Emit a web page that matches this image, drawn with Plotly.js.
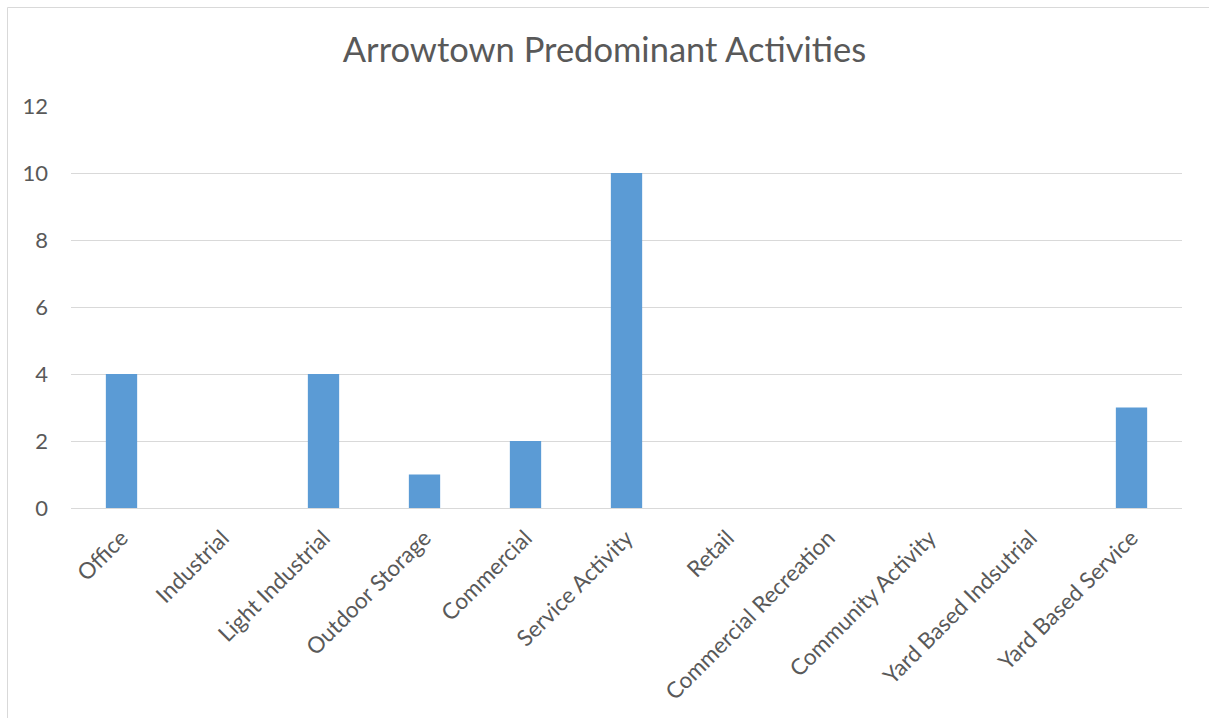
<!DOCTYPE html>
<html><head><meta charset="utf-8">
<script src="https://cdn.plot.ly/plotly-3.0.1.min.js"></script>
<style>html,body{margin:0;padding:0;background:#fff;}#chart{width:1209px;height:718px;}</style>
</head><body><div id="chart"></div>
<script>
const categories = ["Office","Industrial","Light Industrial","Outdoor Storage","Commercial","Service Activity","Retail","Commercial Recreation","Community Activity","Yard Based Indsutrial","Yard Based Service"];
const values = [4,0,4,1,2,10,0,0,0,0,3];
const yTicks = [0,2,4,6,8,10,12];

const W=1209,H=718,L=71,R=27,T=106,B=210;
const pw=W-L-R, ph=H-T-B;
const px = v => (v-L)/pw, py = v => (H-B-v)/ph;

Plotly.newPlot('chart',[{
  type:'bar', x:categories, y:values,
  marker:{color:'#5B9BD5'}, hoverinfo:'x+y'
}],{
  width:W,height:H,
  margin:{l:L,r:R,t:T,b:B,pad:0},
  paper_bgcolor:'#fff',plot_bgcolor:'#fff',
  bargap:0.69,
  font:{family:'Lato, Open Sans, sans-serif',color:'#595959'},
  title:{text:'Arrowtown Predominant Activities',font:{size:34.5,color:'#595959'},x:0.5,xanchor:'center',y:1-50/H,yanchor:'middle'},
  xaxis:{tickangle:-45,tickfont:{size:22.5,color:'#595959'},showgrid:false,showline:true,linecolor:'#D9D9D9',linewidth:1,ticks:'',ticklabelstandoff:7,automargin:false,fixedrange:true},
  yaxis:{range:[0,12],tickvals:yTicks,ticktext:yTicks.map(String),showgrid:true,gridcolor:'#D9D9D9',gridwidth:1,zeroline:true,zerolinecolor:'#D9D9D9',zerolinewidth:1,showline:false,tickfont:{size:22,color:'#595959'},ticks:'',ticklabelstandoff:22,automargin:false,fixedrange:true},
  shapes:[{type:'rect',xref:'paper',yref:'paper',x0:px(7.5),x1:px(1215),y0:py(730),y1:py(7.5),line:{color:'#D9D9D9',width:1},fillcolor:'rgba(0,0,0,0)',layer:'below'}],
  showlegend:false
},{displayModeBar:false,staticPlot:true});
</script></body></html>
